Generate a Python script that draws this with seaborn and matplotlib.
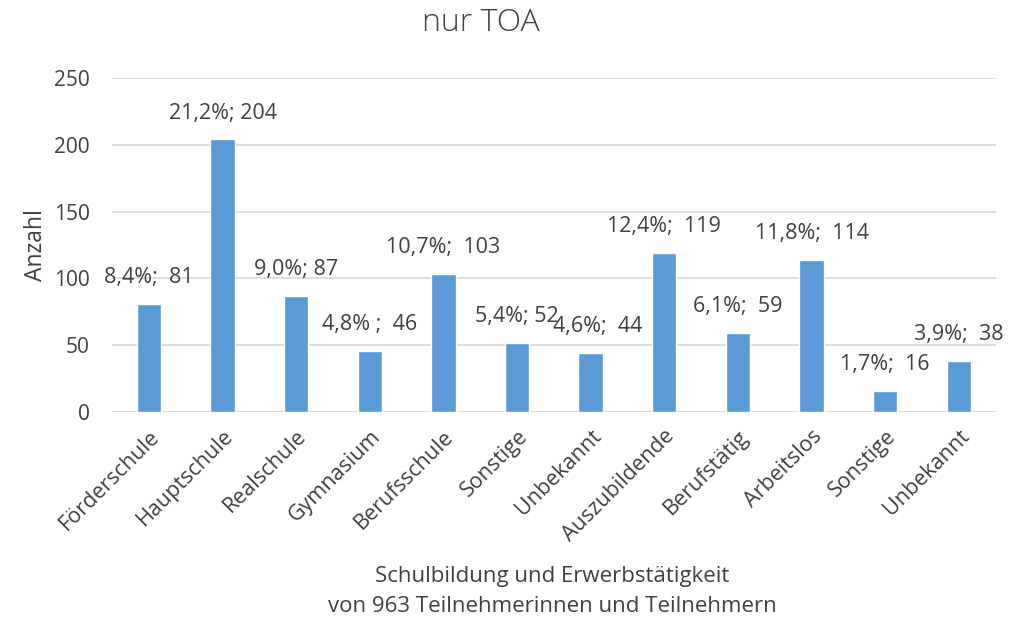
import matplotlib
matplotlib.use("Agg")
import matplotlib.pyplot as plt
import seaborn as sns
import pandas as pd

categories = ["Förderschule", "Hauptschule", "Realschule", "Gymnasium", "Berufsschule",
              "Sonstige", "Unbekannt", "Auszubildende", "Berufstätig", "Arbeitslos",
              "Sonstige", "Unbekannt"]
counts = [81, 204, 87, 46, 103, 52, 44, 119, 59, 114, 16, 38]
labels = ["8,4%;  81", "21,2%; 204", "9,0%; 87", "4,8% ;  46", "10,7%;  103", "5,4%; 52",
          "4,6%;  44", "12,4%;  119", "6,1%;  59", "11,8%;  114", "1,7%;  16", "3,9%;  38"]
yticks = [0, 50, 100, 150, 200, 250]

sns.set_theme(style="white")
plt.rcParams["font.family"] = ["Open Sans", "DejaVu Sans"]
txt = "#404040"

df = pd.DataFrame({"pos": list(range(len(categories))), "count": counts})

fig = plt.figure(figsize=(10.19, 6.23), dpi=100)
ax = fig.add_axes([0.110, 0.3387, 0.867, 0.5361])
sns.barplot(data=df, x="pos", y="count", color="#5b9bd5", saturation=1,
            width=0.33, ax=ax, zorder=3)

ax.set_ylim(0, 250)
ax.set_xlim(-0.5, len(categories) - 0.5)
ax.set_yticks(yticks)
ax.set_yticklabels([str(t) for t in yticks], fontsize=15, color=txt)
ax.set_xticks(range(len(categories)))
ax.set_xticklabels(categories, rotation=45, ha="right", rotation_mode="anchor",
                   fontsize=15.5, color=txt)
ax.tick_params(axis="y", length=0, pad=16)
ax.tick_params(axis="x", length=0, pad=10)
ax.grid(axis="y", color="#d9d9d9", linewidth=1.2, zorder=0)
ax.grid(axis="x", visible=False)
for s in ax.spines.values():
    s.set_visible(False)
ax.set_xlabel("")
ax.set_ylabel("Anzahl", fontsize=16.5, color=txt, labelpad=4)

dx = [0, 0, 0, 0, 0, 0, 5, 0, 0, 0, 0, 0]
for i, (c, lab) in enumerate(zip(counts, labels)):
    ax.annotate(lab, xy=(i, c), xytext=(dx[i], 19), textcoords="offset points",
                ha="center", va="center", fontsize=15.5, color=txt, zorder=5)

fig.text(0.472, 0.963, "nur TOA", ha="center", va="center", fontsize=23,
         fontweight="light", color=txt)
fig.text(0.542, 0.074, "Schulbildung und Erwerbstätigkeit", ha="center", va="center",
         fontsize=16, color=txt)
fig.text(0.542, 0.026, "von 963 Teilnehmerinnen und Teilnehmern", ha="center",
         va="center", fontsize=16, color=txt)

fig.savefig("out.png", dpi=100)
